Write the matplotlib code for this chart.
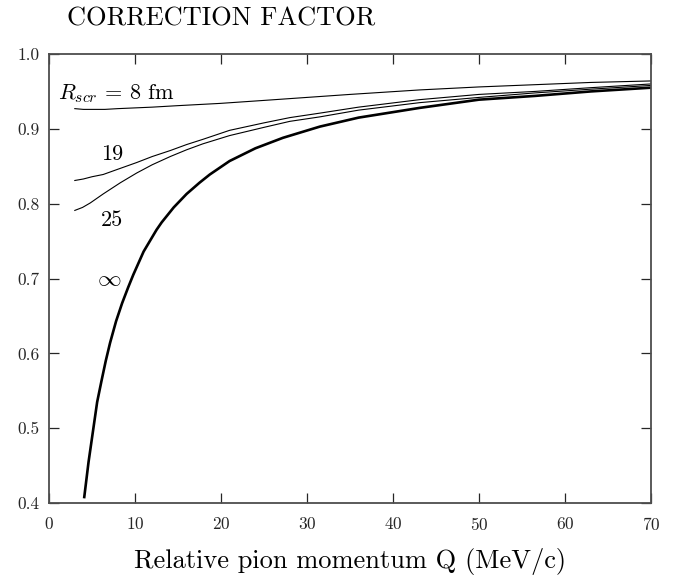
import matplotlib
matplotlib.use("Agg")
import matplotlib.pyplot as plt
from matplotlib.ticker import FormatStrFormatter

plt.rcParams["font.family"] = "serif"
plt.rcParams["font.serif"] = ["cmr10", "DejaVu Serif"]
plt.rcParams["mathtext.fontset"] = "cm"
plt.rcParams["axes.formatter.use_mathtext"] = True

# --- curves: Q in MeV/c, correction factor ---
q_8fm = [3, 4, 5, 6.5, 8, 10, 12, 15, 19.9, 25, 30, 35, 43.1, 50, 56.5, 63, 70]
f_8fm = [0.927, 0.926, 0.926, 0.926, 0.927, 0.928, 0.929, 0.931, 0.934,
         0.938, 0.942, 0.946, 0.952, 0.956, 0.959, 0.962, 0.964]

q_19 = [3, 4, 5, 6.3, 8, 10.2, 12, 14.1, 16, 17.9, 21, 25, 28, 31.5, 36,
        43.1, 50, 56.5, 63, 70]
f_19 = [0.831, 0.833, 0.836, 0.839, 0.846, 0.855, 0.863, 0.871, 0.879, 0.886,
        0.898, 0.908, 0.915, 0.921, 0.929, 0.939, 0.946, 0.950, 0.955, 0.960]

q_25 = [3, 3.9, 4.8, 6.3, 8.3, 10.2, 12, 14.1, 16, 17.9, 21, 25, 28, 31.5, 36,
        43.1, 50, 56.5, 63, 70]
f_25 = [0.791, 0.795, 0.801, 0.813, 0.828, 0.841, 0.852, 0.863, 0.872, 0.880,
        0.891, 0.902, 0.910, 0.916, 0.925, 0.935, 0.942, 0.948, 0.953, 0.958]

q_inf = [4.1, 4.6, 5.2, 5.6, 6.1, 6.6, 7.1, 7.8, 8.5, 9.2, 9.8, 11.0, 12.5,
         13.1, 14.5, 16, 17.5, 18.7, 21, 24, 27.2, 31.5, 36, 43.1, 50, 56.5,
         63, 70]
f_inf = [0.408, 0.455, 0.503, 0.535, 0.563, 0.590, 0.614, 0.643, 0.667, 0.688,
         0.705, 0.736, 0.765, 0.775, 0.795, 0.813, 0.828, 0.839, 0.857, 0.874,
         0.888, 0.903, 0.915, 0.928, 0.939, 0.944, 0.950, 0.955]

x_ticks = [0, 10, 20, 30, 40, 50, 60, 70]
y_ticks = [0.4, 0.5, 0.6, 0.7, 0.8, 0.9, 1.0]

fig = plt.figure(figsize=(6.75, 5.77), dpi=100)
ax = fig.add_axes([0.0726, 0.1282, 0.8918, 0.7782])

ax.plot(q_8fm, f_8fm, color="black", lw=0.8)
ax.plot(q_19, f_19, color="black", lw=0.8)
ax.plot(q_25, f_25, color="black", lw=0.8)
ax.plot(q_inf, f_inf, color="black", lw=1.9)

ax.text(1.05, 0.94, r"$R_{scr}$ = 8 fm", fontsize=16, va="baseline", ha="left")
ax.text(7.38, 0.858, "19", fontsize=16, va="baseline", ha="center")
ax.text(7.38, 0.770, "25", fontsize=16, va="baseline", ha="center")
ax.text(7.0, 0.70, r"$\infty$", fontsize=17, va="center", ha="center")

ax.set_xlim(0, 70)
ax.set_ylim(0.4, 1.0)
ax.set_xticks(x_ticks)
ax.set_yticks(y_ticks)
ax.yaxis.set_major_formatter(FormatStrFormatter("%.1f"))
ax.tick_params(direction="in", length=7, width=0.9, labelsize=12.5,
               top=True, right=True, colors="0.15")
ax.tick_params(axis="x", pad=9)
ax.tick_params(axis="y", pad=7)
for s in ax.spines.values():
    s.set_linewidth(1.3)
    s.set_color("0.3")

fig.text(0.0993, 0.955, "CORRECTION FACTOR", fontsize=19, va="baseline", ha="left")
fig.text(0.5185, 0.0156, "Relative pion momentum Q (MeV/c)", fontsize=19,
         va="baseline", ha="center")

fig.savefig("out.png", dpi=100)
